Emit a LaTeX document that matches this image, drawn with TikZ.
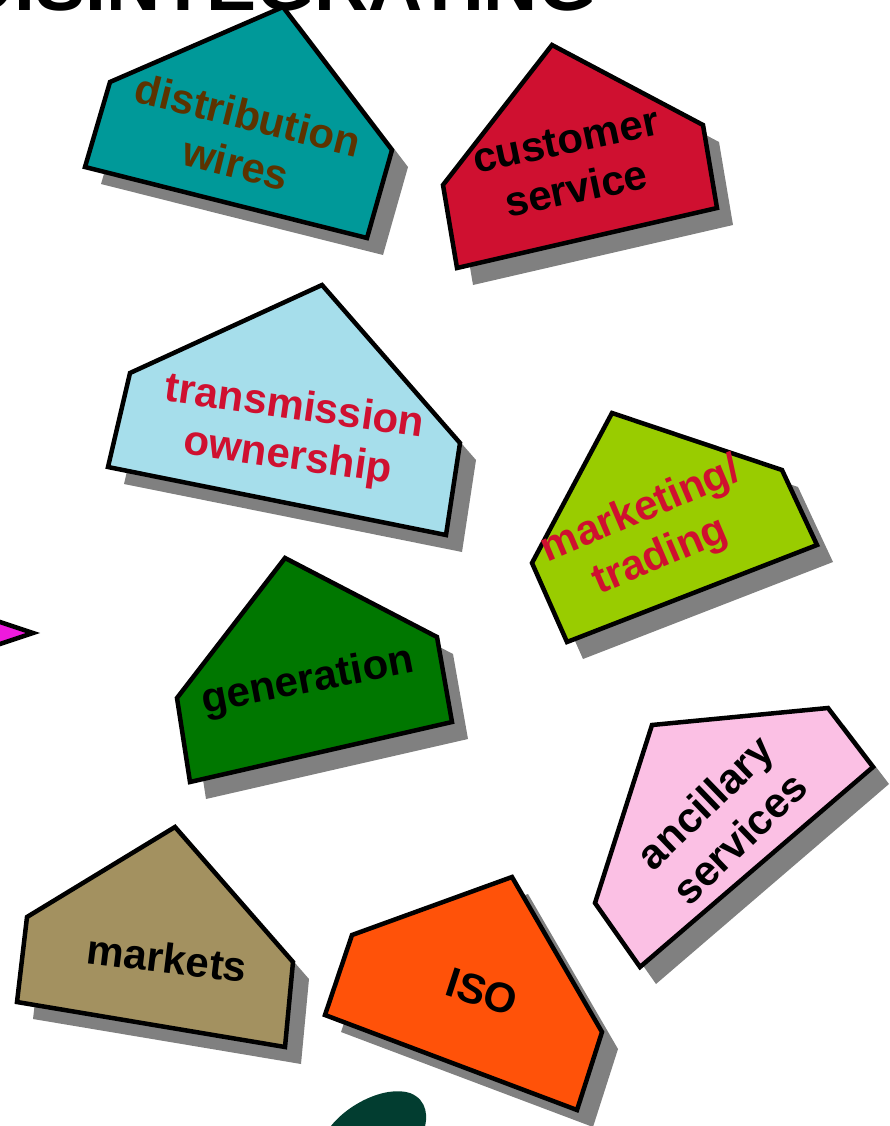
\documentclass[tikz,border=0pt]{standalone}
\usepackage{fontspec}
\setmainfont{Liberation Sans}
\definecolor{shadowgray}{HTML}{808080}
\definecolor{teal}{HTML}{009999}
\definecolor{crimsonred}{HTML}{CF1030}
\definecolor{wirebrown}{HTML}{5C3300}
\definecolor{lightblue}{HTML}{A6DEEB}
\definecolor{limegreen}{HTML}{99CC00}
\definecolor{darkgreen}{HTML}{007700}
\definecolor{pinkfill}{HTML}{FBC0E4}
\definecolor{khaki}{HTML}{A39160}
\definecolor{orangefill}{HTML}{FF5209}
\definecolor{magentafill}{HTML}{EE1ADD}
\definecolor{blobgreen}{HTML}{023D30}
\tikzset{
  piece/.style={draw=black, line width=4.5pt, line join=miter},
  shade/.style={fill=shadowgray, shift={(16,17)}},
  lbl/.style={font=\fontsize{42}{50}\selectfont\bfseries, align=center, inner sep=0pt},
  ttl/.style={font=\fontsize{75}{80}\selectfont\bfseries, inner sep=0pt, anchor=base west}
}
\begin{document}
\begin{tikzpicture}[x=1pt,y=-1pt]
\useasboundingbox (0,0) rectangle (889,1126);
\clip (0,0) rectangle (889,1126);
% title
\node[ttl] (title) at (-40,11) {DISINTEGRATING};
% left arrow
\draw[piece, fill=magentafill] (-60,602) -- (33,633) -- (-60,664) -- cycle;
% blob
\fill[blobgreen] (328,1130) .. controls (345,1105) and (385,1085) .. (410,1093) .. controls (428,1100) and (428,1118) .. (424,1130) -- cycle;
% distribution wires
\fill[shade] (283,7) -- (392,150) -- (367,238) -- (85,167) -- (110,82) -- cycle;
\draw[piece, fill=teal] (283,7) -- (392,150) -- (367,238) -- (85,167) -- (110,82) -- cycle;
\node[lbl, text=wirebrown, rotate=-14] (dist) at (242,139) {distribution\\wires};
% customer service
\fill[shade] (552,45) -- (703,125) -- (717,208) -- (457,268) -- (443,185) -- cycle;
\draw[piece, fill=crimsonred] (552,45) -- (703,125) -- (717,208) -- (457,268) -- (443,185) -- cycle;
\node[lbl, text=black, rotate=12] (cust) at (571,165) {customer\\service};
% transmission ownership
\fill[shade] (322,285) -- (460,443) -- (446,535) -- (108,467) -- (130,373) -- cycle;
\draw[piece, fill=lightblue] (322,285) -- (460,443) -- (446,535) -- (108,467) -- (130,373) -- cycle;
\node[lbl, text=crimsonred, rotate=-8] (trans) at (291,433) {transmission\\ownership};
% marketing / trading
\fill[shade] (612,413) -- (782,470) -- (817,545) -- (567,642) -- (532,563) -- cycle;
\draw[piece, fill=limegreen] (612,413) -- (782,470) -- (817,545) -- (567,642) -- (532,563) -- cycle;
\node[lbl, text=crimsonred, rotate=23] (mkt) at (651,534) {marketing/\\trading};
% generation
\fill[shade] (285,558) -- (437,637) -- (452,722) -- (190,782) -- (177,698) -- cycle;
\draw[piece, fill=darkgreen] (285,558) -- (437,637) -- (452,722) -- (190,782) -- (177,698) -- cycle;
\node[lbl, text=black, rotate=11] (gen) at (308,682) {generation};
% ancillary services
\fill[shade] (652,725) -- (828,708) -- (873,767) -- (640,967) -- (595,903) -- cycle;
\draw[piece, fill=pinkfill] (652,725) -- (828,708) -- (873,767) -- (640,967) -- (595,903) -- cycle;
\node[lbl, text=black, rotate=44] (anc) at (722,820) {ancillary\\services};
% markets
\fill[shade] (175,827) -- (293,962) -- (285,1047) -- (17,1002) -- (27,917) -- cycle;
\draw[piece, fill=khaki] (175,827) -- (293,962) -- (285,1047) -- (17,1002) -- (27,917) -- cycle;
\node[lbl, text=black, rotate=-7] (mkts) at (167,958) {markets};
% ISO
\fill[shade] (512,877) -- (602,1032) -- (577,1110) -- (325,1015) -- (352,935) -- cycle;
\draw[piece, fill=orangefill] (512,877) -- (602,1032) -- (577,1110) -- (325,1015) -- (352,935) -- cycle;
\node[lbl, text=black, rotate=-18] (iso) at (482,992) {ISO};
\end{tikzpicture}
\end{document}
